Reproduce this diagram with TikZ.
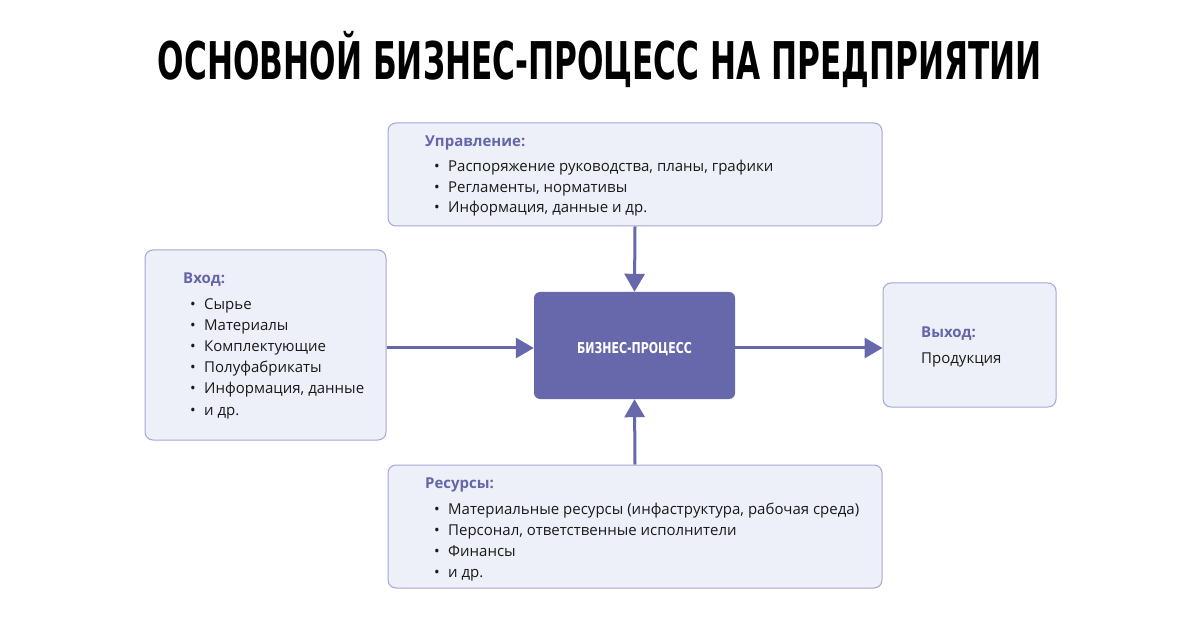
\documentclass[tikz,border=0pt]{standalone}
\usepackage{fontspec}
\usepackage{graphicx}
\setmainfont{Open Sans}
\newfontfamily\titlefont{DejaVu Sans}
\usetikzlibrary{arrows.meta}
\definecolor{purp}{HTML}{6767AB}
\definecolor{boxfill}{HTML}{EEF0F9}
\definecolor{boxline}{HTML}{A6A6D6}
\definecolor{headc}{HTML}{6565AA}
\definecolor{txt}{HTML}{1A1A1A}
\tikzset{
  infobox/.style={draw=boxline, fill=boxfill, line width=1pt, rounded corners=8pt, inner sep=0pt},
  procbox/.style={fill=purp, rounded corners=6pt, inner sep=0pt},
  head/.style={anchor=base west, inner sep=0pt, font=\fontsize{15pt}{18pt}\selectfont\bfseries, text=headc},
  item/.style={anchor=base west, inner sep=0pt, font=\fontsize{15pt}{18pt}\selectfont, text=txt},
  bul/.style={anchor=base west, inner sep=0pt, font=\fontsize{15pt}{18pt}\selectfont, text=txt},
  arr/.style={draw=purp, line width=3pt, -{Triangle[width=20pt,length=18pt]}}
}
\begin{document}
\begin{tikzpicture}[x=1pt,y=-1pt]
\fill[white] (0,0) rectangle (1200,628);
\useasboundingbox (0,0) rectangle (1200,628);
% title
\node[anchor=base, inner sep=0pt] (title) at (600,80) {\resizebox{884pt}{\height}{\titlefont\bfseries\fontsize{52pt}{56pt}\selectfont ОСНОВНОЙ БИЗНЕС-ПРОЦЕСС НА ПРЕДПРИЯТИИ}};
% boxes
\node[infobox, minimum width=494pt, minimum height=103pt] (upr) at (635,174.5) {};
\node[infobox, minimum width=241pt, minimum height=190pt] (vhod) at (265.5,345) {};
\node[procbox, minimum width=201pt, minimum height=107pt] (proc) at (634.5,345.5) {};
\node[infobox, minimum width=173pt, minimum height=124pt] (vyhod) at (969.5,345) {};
\node[infobox, minimum width=494pt, minimum height=123pt] (res) at (635,526.5) {};
% process label
\node[anchor=base, inner sep=0pt, text=white] (proclbl) at (634.5,354) {\resizebox{115pt}{\height}{\titlefont\bfseries\fontsize{15pt}{18pt}\selectfont БИЗНЕС-ПРОЦЕСС}};
% arrows
\coordinate (pw) at ([yshift=-2.5pt]proc.west);
\coordinate (pe) at ([yshift=-2.5pt]proc.east);
\draw[arr] (upr.south) -- (proc.north);
\draw[arr] (res.north) -- (proc.south);
\draw[arr] (pw -| vhod.east) -- (pw);
\draw[arr] (pe) -- (pe -| vyhod.west);
% Upravlenie
\node[head] (uh) at (425,147) {Управление:};
\node[bul] (ub1) at (434,172) {•};
\node[item] (ut1) at (448,172) {Распоряжение руководства, планы, графики};
\node[bul] (ub2) at (434,192.5) {•};
\node[item] (ut2) at (448,192.5) {Регламенты, нормативы};
\node[bul] (ub3) at (434,213) {•};
\node[item] (ut3) at (448,213) {Информация, данные и др.};
% Vhod
\node[head] (vh) at (183,284) {Вход:};
\node[bul] (vb1) at (190,310) {•};
\node[item] (vt1) at (204,310) {Сырье};
\node[bul] (vb2) at (190,331) {•};
\node[item] (vt2) at (204,331) {Материалы};
\node[bul] (vb3) at (190,352) {•};
\node[item] (vt3) at (204,352) {Комплектующие};
\node[bul] (vb4) at (190,373) {•};
\node[item] (vt4) at (204,373) {Полуфабрикаты};
\node[bul] (vb5) at (190,394) {•};
\node[item] (vt5) at (204,394) {Информация, данные};
\node[bul] (vb6) at (190,415) {•};
\node[item] (vt6) at (204,415) {и др.};
% Vyhod
\node[head] (yh) at (921,338) {Выход:};
\node[item] (yt1) at (921,363) {Продукция};
% Resursy
\node[head] (rh) at (425,488) {Ресурсы:};
\node[bul] (rb1) at (434,514) {•};
\node[item] (rt1) at (448,514) {Материальные ресурсы (инфаструктура, рабочая среда)};
\node[bul] (rb2) at (434,535) {•};
\node[item] (rt2) at (448,535) {Персонал, ответственные исполнители};
\node[bul] (rb3) at (434,556) {•};
\node[item] (rt3) at (448,556) {Финансы};
\node[bul] (rb4) at (434,577) {•};
\node[item] (rt4) at (448,577) {и др.};
\end{tikzpicture}
\end{document}
